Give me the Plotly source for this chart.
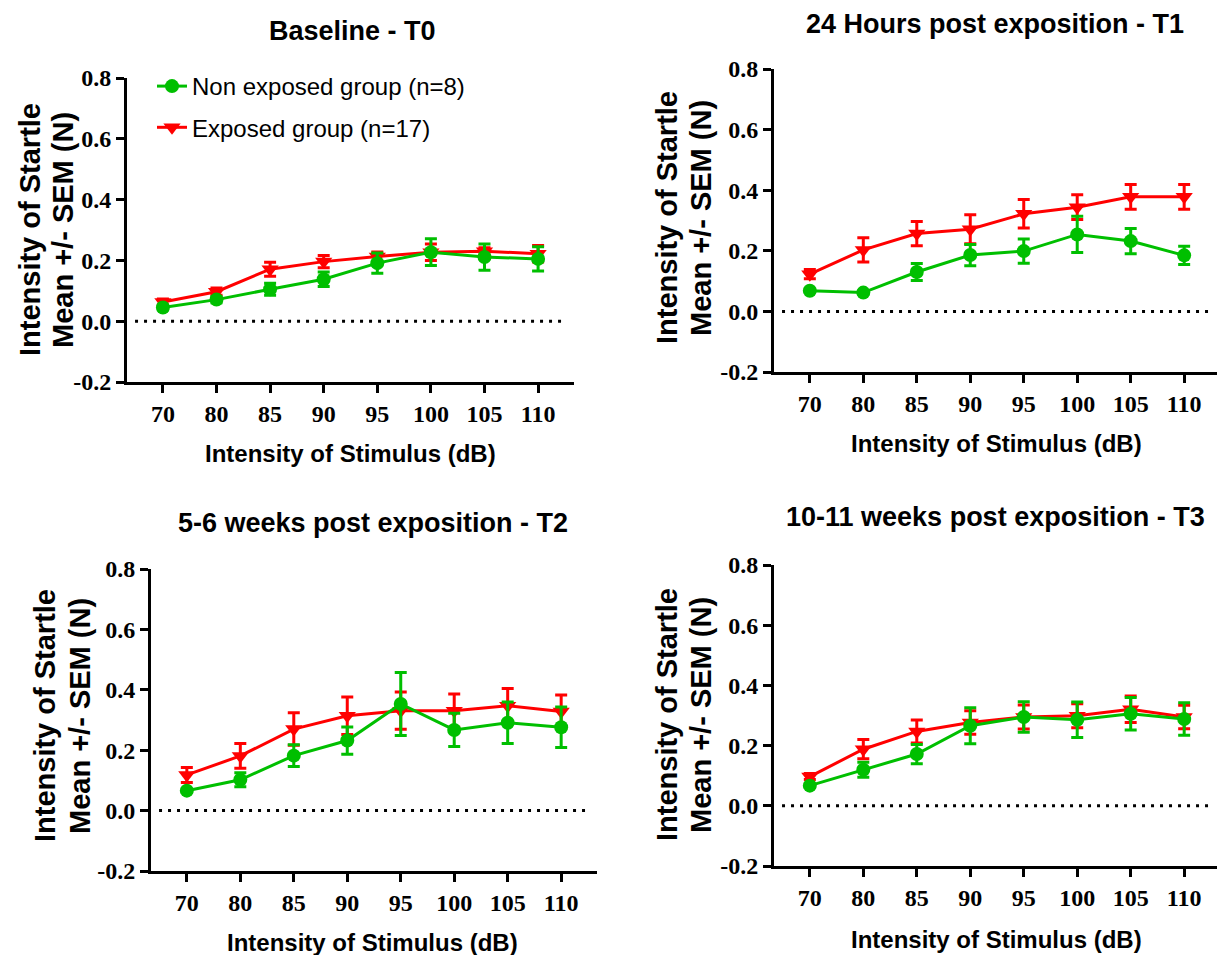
import plotly.graph_objects as go

# stimulus intensities (dB)
stimulus = ['70', '80', '85', '90', '95', '100', '105', '110']

# mean startle intensity (N) and SEM, per time point
t0_non = [0.045, 0.071, 0.105, 0.138, 0.191, 0.227, 0.211, 0.205]
t0_non_sem = [0.008, 0.010, 0.020, 0.024, 0.033, 0.044, 0.043, 0.040]
t0_exp = [0.063, 0.097, 0.171, 0.196, 0.213, 0.227, 0.230, 0.222]
t0_exp_sem = [0.010, 0.012, 0.023, 0.020, 0.015, 0.027, 0.012, 0.027]

t1_non = [0.068, 0.062, 0.130, 0.186, 0.199, 0.254, 0.232, 0.185]
t1_non_sem = [0.005, 0.005, 0.028, 0.035, 0.040, 0.060, 0.042, 0.030]
t1_exp = [0.123, 0.203, 0.257, 0.271, 0.322, 0.344, 0.378, 0.378]
t1_exp_sem = [0.015, 0.040, 0.040, 0.048, 0.047, 0.041, 0.041, 0.041]

t2_non = [0.066, 0.102, 0.182, 0.232, 0.353, 0.267, 0.291, 0.276]
t2_non_sem = [0.005, 0.023, 0.036, 0.045, 0.104, 0.055, 0.069, 0.067]
t2_exp = [0.118, 0.181, 0.270, 0.314, 0.331, 0.331, 0.347, 0.328]
t2_exp_sem = [0.025, 0.041, 0.054, 0.062, 0.062, 0.055, 0.057, 0.055]

t3_non = [0.067, 0.120, 0.172, 0.266, 0.295, 0.286, 0.306, 0.288]
t3_non_sem = [0.005, 0.025, 0.032, 0.060, 0.051, 0.059, 0.054, 0.054]
t3_exp = [0.097, 0.188, 0.247, 0.277, 0.295, 0.299, 0.321, 0.295]
t3_exp_sem = [0.010, 0.032, 0.038, 0.039, 0.040, 0.040, 0.044, 0.039]

titles = ['Baseline - T0', '24 Hours post exposition - T1',
          '5-6 weeks post exposition - T2', '10-11 weeks post exposition - T3']

GREEN = '#00BF00'
RED = '#FF0000'
W, H = 1225, 955
OFF = 8  # page body margin

def px(x, y):
    # screen pixel -> paper fraction
    return (x - OFF) / W, 1 - (y - OFF) / H

panels = [
    # data, x extent, y extent (bottom, top), title, ytitle lines x / y center, xtitle
    ((t0_non, t0_non_sem, t0_exp, t0_exp_sem), (127, 574), (382, 78), (352, 31), (30, 63, 230), (350, 453)),
    ((t1_non, t1_non_sem, t1_exp, t1_exp_sem), (774, 1220), (372, 69), (995, 24), (667, 701, 218), (996, 444)),
    ((t2_non, t2_non_sem, t2_exp, t2_exp_sem), (151, 597), (871, 569), (373, 523), (45, 80, 716), (372, 942)),
    ((t3_non, t3_non_sem, t3_exp, t3_exp_sem), (774, 1220), (866, 565), (995, 517), (667, 701, 715), (996, 939)),
]

fig = go.Figure()
annotations = []
shapes = []
layout = {}

for i, (data, xd, yd, tpos, ytpos, xtpos) in enumerate(panels):
    n = '' if i == 0 else str(i + 1)
    non, non_sem, exp, exp_sem = data
    first = (i == 0)

    fig.add_trace(go.Scatter(
        x=stimulus, y=exp, xaxis='x' + n, yaxis='y' + n,
        name='Exposed group (n=17)', legendgroup='exp', legendrank=2, showlegend=first,
        mode='lines+markers',
        line=dict(color=RED, width=3),
        marker=dict(symbol='triangle-down', size=15, color=RED),
        error_y=dict(type='data', array=exp_sem, color=RED, thickness=3, width=6)))
    fig.add_trace(go.Scatter(
        x=stimulus, y=non, xaxis='x' + n, yaxis='y' + n,
        name='Non exposed group (n=8)', legendgroup='non', legendrank=1, showlegend=first,
        mode='lines+markers',
        line=dict(color=GREEN, width=3),
        marker=dict(symbol='circle', size=14, color=GREEN),
        error_y=dict(type='data', array=non_sem, color=GREEN, thickness=3, width=6)))

    x0, _ = px(xd[0], 0)
    x1, _ = px(xd[1], 0)
    _, y0 = px(0, yd[0])
    _, y1 = px(0, yd[1])
    layout['xaxis' + n] = dict(
        domain=[x0, x1], anchor='y' + n,
        type='category', range=[-0.67, 7.67],
        showline=True, linecolor='black', linewidth=3,
        ticks='outside', ticklen=8, tickwidth=3, tickcolor='black',
        ticklabelstandoff=0,
        tickfont=dict(family='Liberation Serif', size=24, color='black', weight='bold'),
        showgrid=False, zeroline=False, fixedrange=True)
    layout['yaxis' + n] = dict(
        domain=[y0, y1], anchor='x' + n,
        range=[-0.2, 0.8], tickvals=[-0.2, 0, 0.2, 0.4, 0.6, 0.8],
        ticktext=['-0.2', '0.0', '0.2', '0.4', '0.6', '0.8'],
        showline=True, linecolor='black', linewidth=3,
        ticks='outside', ticklen=8, tickwidth=3, tickcolor='black',
        tickfont=dict(family='Liberation Serif', size=24, color='black', weight='bold'),
        showgrid=False, zeroline=False, fixedrange=True)

    # dotted zero line
    shapes.append(dict(type='line', xref='x' + n + ' domain', yref='y' + n,
                       x0=0.018, x1=0.98, y0=0, y1=0,
                       line=dict(color='black', width=3, dash='3px,6px')))

    tx, ty = px(*tpos)
    annotations.append(dict(text='<b>' + titles[i] + '</b>', x=tx, y=ty, xref='paper', yref='paper',
                            showarrow=False, xanchor='center', yanchor='middle',
                            font=dict(family='Liberation Sans', size=27, color='black')))
    for line_x, line_txt in zip(ytpos[:2], ['Intensity of Startle', 'Mean +/- SEM (N)']):
        yx, yy = px(line_x, ytpos[2])
        annotations.append(dict(text='<b>' + line_txt + '</b>', x=yx, y=yy,
                                xref='paper', yref='paper', textangle=-90, showarrow=False,
                                xanchor='center', yanchor='middle',
                                font=dict(family='Liberation Sans', size=29, color='black')))
    xx, xy = px(*xtpos)
    annotations.append(dict(text='<b>Intensity of Stimulus (dB)</b>', x=xx, y=xy,
                            xref='paper', yref='paper', showarrow=False,
                            xanchor='center', yanchor='middle',
                            font=dict(family='Liberation Sans', size=24, color='black')))

# significance mark at 110 dB, T1
annotations.append(dict(text='*', x='110', y=0.455, xref='x2', yref='y2', showarrow=False,
                        font=dict(family='Liberation Sans', size=20, color='black')))

lx, ly = px(152, 64)
fig.update_layout(
    width=W, height=H,
    margin=dict(l=0, r=0, t=0, b=0, autoexpand=False),
    paper_bgcolor='white', plot_bgcolor='white',
    showlegend=True,
    legend=dict(x=lx, y=ly, xanchor='left', yanchor='top',
                bgcolor='rgba(0,0,0,0)', traceorder='grouped', tracegroupgap=7,
                font=dict(family='Liberation Sans', size=24, color='black')),
    annotations=annotations, shapes=shapes,
    **layout)

fig.write_html('out.html')
